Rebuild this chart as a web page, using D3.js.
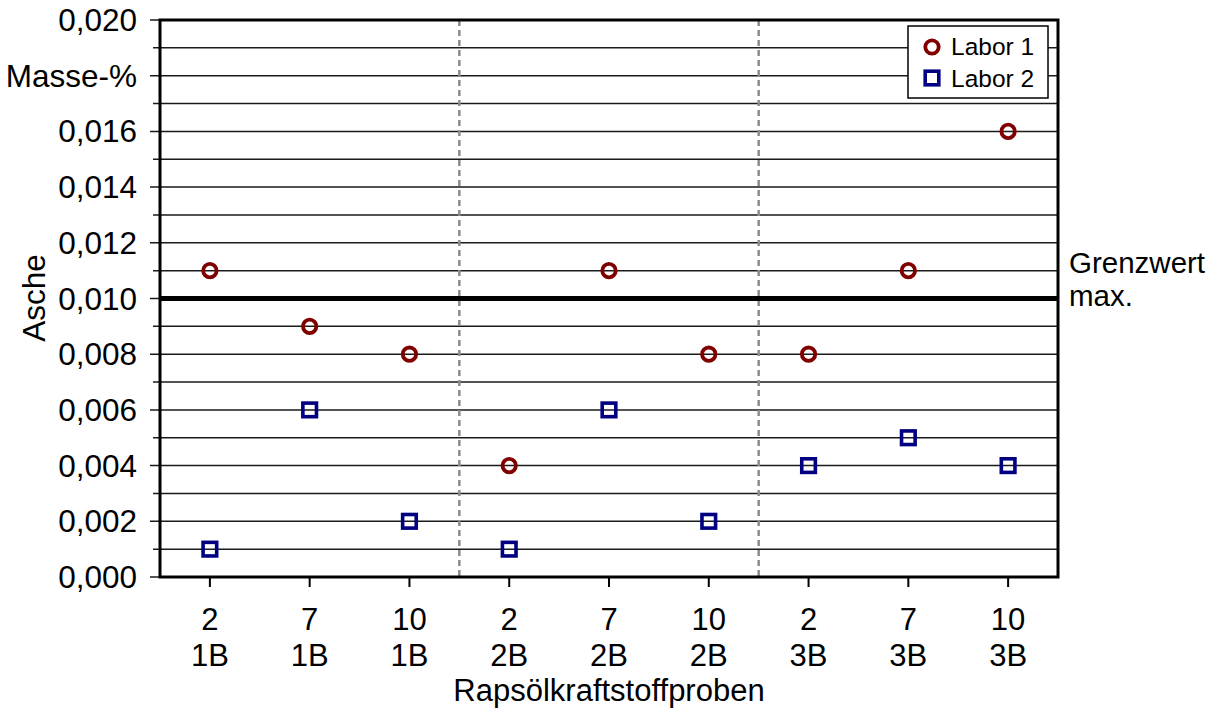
<!DOCTYPE html>
<html><head><meta charset="utf-8">
<script src="https://cdn.jsdelivr.net/npm/d3@7"></script>
<style>body{margin:0;background:#fff}svg{display:block}text{font-family:Arial,"Liberation Sans",sans-serif}</style>
</head><body>
<script>
const categories = ["2|1B","7|1B","10|1B","2|2B","7|2B","10|2B","2|3B","7|3B","10|3B"];
const labor1 = [0.011,0.009,0.008,0.004,0.011,0.008,0.008,0.011,0.016];
const labor2 = [0.001,0.006,0.002,0.001,0.006,0.002,0.004,0.005,0.004];
const yTickLabels = ["0,000","0,002","0,004","0,006","0,008","0,010","0,012","0,014","0,016","Masse-%","0,020"];
const grenzwert = 0.010;
const groupSeparators = ["10|1B","10|2B"];

const W=1227,H=708;
const m={l:160,r:1058,t:20,b:577};
const svg=d3.select("body").append("svg").attr("width",W).attr("height",H);
const x=d3.scaleBand().domain(categories).range([m.l,m.r]);
const y=d3.scaleLinear().domain([0,0.020]).range([m.b,m.t]);

const minor=d3.range(0,21).map(i=>i/1000);
svg.append("g").selectAll("line").data(minor).join("line")
  .attr("x1",d=>Math.round(d*1000)%2===0?150:153).attr("x2",m.r)
  .attr("y1",d=>y(d)).attr("y2",d=>y(d))
  .attr("stroke","#1a1a1a").attr("stroke-width",1.5);

svg.append("g").selectAll("line").data(groupSeparators).join("line")
  .attr("x1",d=>x(d)+x.bandwidth()).attr("x2",d=>x(d)+x.bandwidth())
  .attr("y1",m.t).attr("y2",m.b)
  .attr("stroke","#8c8c8c").attr("stroke-width",2.5).attr("stroke-dasharray","6,4");

svg.append("line").attr("x1",m.l).attr("x2",m.r).attr("y1",y(grenzwert)).attr("y2",y(grenzwert))
  .attr("stroke","#000").attr("stroke-width",5);

svg.append("rect").attr("x",m.l).attr("y",m.t).attr("width",m.r-m.l).attr("height",m.b-m.t)
  .attr("fill","none").attr("stroke","#000").attr("stroke-width",3);

const majors=d3.range(0,11).map(i=>i*0.002);
svg.append("g").selectAll("text").data(majors).join("text")
  .attr("x",137).attr("y",d=>y(d)+11).attr("text-anchor","end")
  .attr("font-size",31.5).text((d,i)=>yTickLabels[i]);

const xt=svg.append("g");
xt.selectAll("line").data(categories).join("line")
  .attr("x1",d=>x(d)+x.bandwidth()/2).attr("x2",d=>x(d)+x.bandwidth()/2)
  .attr("y1",m.b).attr("y2",m.b+10).attr("stroke","#000").attr("stroke-width",2);
const lbl=xt.selectAll("text").data(categories).join("text")
  .attr("text-anchor","middle").attr("font-size",31);
lbl.append("tspan").attr("x",d=>x(d)+x.bandwidth()/2).attr("y",630).text(d=>d.split("|")[0]);
lbl.append("tspan").attr("x",d=>x(d)+x.bandwidth()/2).attr("y",666).text(d=>d.split("|")[1]);

svg.append("text").attr("x",609).attr("y",701).attr("text-anchor","middle").attr("font-size",31).text("Rapsölkraftstoffproben");
svg.append("text").attr("transform","translate(45,298) rotate(-90)").attr("text-anchor","middle").attr("font-size",31.5).text("Asche");
const gw=svg.append("text").attr("font-size",29.5);
gw.append("tspan").attr("x",1069).attr("y",273).text("Grenzwert");
gw.append("tspan").attr("x",1069).attr("y",306).text("max.");

svg.append("g").selectAll("circle").data(labor1).join("circle")
  .attr("cx",(d,i)=>x(categories[i])+x.bandwidth()/2).attr("cy",d=>y(d)).attr("r",6.7)
  .attr("fill","none").attr("stroke","#800000").attr("stroke-width",3.8);
svg.append("g").selectAll("rect").data(labor2).join("rect")
  .attr("x",(d,i)=>x(categories[i])+x.bandwidth()/2-6.8).attr("y",d=>y(d)-6.8)
  .attr("width",13.6).attr("height",13.6)
  .attr("fill","none").attr("stroke","#000080").attr("stroke-width",3.6);

const lg=svg.append("g");
lg.append("rect").attr("x",908).attr("y",26).attr("width",140).attr("height",72).attr("fill","#fff").attr("stroke","#000").attr("stroke-width",1.5);
lg.append("circle").attr("cx",932).attr("cy",47).attr("r",6.7).attr("fill","none").attr("stroke","#800000").attr("stroke-width",3.8);
lg.append("rect").attr("x",925.2).attr("y",71.2).attr("width",13.6).attr("height",13.6).attr("fill","none").attr("stroke","#000080").attr("stroke-width",3.6);
lg.append("text").attr("x",951).attr("y",55).attr("font-size",24.5).text("Labor 1");
lg.append("text").attr("x",951).attr("y",87).attr("font-size",24.5).text("Labor 2");
</script>
</body></html>
